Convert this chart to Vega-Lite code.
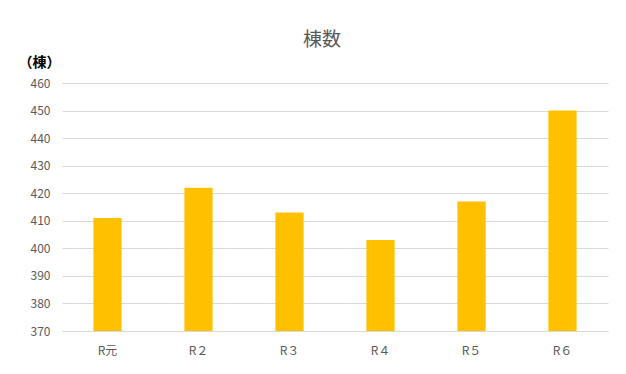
{
  "$schema": "https://vega.github.io/schema/vega-lite/v6.json",
  "autosize": "none",
  "width": 546,
  "height": 248,
  "padding": {"left": 62, "top": 83, "right": 18, "bottom": 43},
  "background": "white",
  "title": {
    "text": "棟数",
    "fontSize": 19,
    "font": "Noto Sans CJK JP",
    "fontWeight": "normal",
    "color": "#595959",
    "anchor": "middle",
    "dx": -13,
    "offset": 5
  },
  "data": {
    "values": [
      {"year": "R元", "count": 411},
      {"year": "R２", "count": 422},
      {"year": "R３", "count": 413},
      {"year": "R４", "count": 403},
      {"year": "R５", "count": 417},
      {"year": "R６", "count": 450}
    ]
  },
  "mark": {"type": "bar", "color": "#FFC000", "clip": true},
  "encoding": {
    "x": {
      "field": "year",
      "type": "nominal",
      "sort": null,
      "scale": {"paddingInner": 0.69, "paddingOuter": 0.345},
      "axis": {
        "title": null,
        "labelAngle": 0,
        "ticks": false,
        "domain": true,
        "domainColor": "#d9d9d9",
        "labelPadding": 14,
        "labelFontSize": 12,
        "labelColor": "#595959",
        "labelFont": "Noto Sans CJK JP"
      }
    },
    "y": {
      "field": "count",
      "type": "quantitative",
      "scale": {"domain": [370, 460], "nice": false, "zero": false},
      "axis": {
        "values": [370, 380, 390, 400, 410, 420, 430, 440, 450, 460],
        "title": "（棟）",
        "titleAngle": 0,
        "titleX": -44,
        "titleY": -21,
        "titleAlign": "left",
        "titleBaseline": "middle",
        "titleFontSize": 14,
        "titleFontWeight": "bold",
        "titleColor": "#000000",
        "titleFont": "Noto Sans CJK JP",
        "domain": false,
        "ticks": false,
        "grid": true,
        "gridColor": "#d9d9d9",
        "labelPadding": 12,
        "labelFontSize": 12,
        "labelColor": "#595959",
        "labelFont": "Noto Sans CJK JP"
      }
    }
  },
  "config": {"view": {"stroke": null}}
}
